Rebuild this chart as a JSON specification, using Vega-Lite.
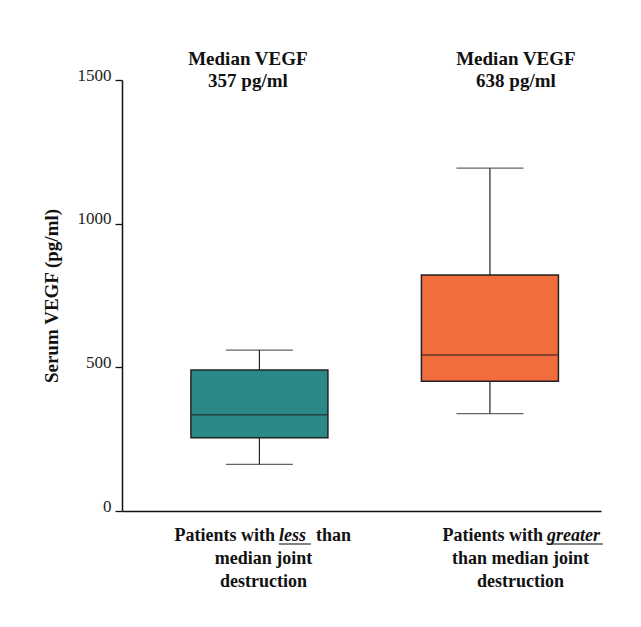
{
  "$schema": "https://vega.github.io/schema/vega-lite/v6.json",
  "width": 479,
  "height": 431,
  "autosize": {"type": "none"},
  "padding": {"left": 122, "top": 80, "right": 40, "bottom": 116},
  "background": "white",
  "config": {
    "view": {"stroke": null},
    "font": "Liberation Serif",
    "numberFormat": "d",
    "axisY": {"tickCount": 4, "grid": false,
      "domainColor": "#111", "domainWidth": 1.5, "tickColor": "#111", "tickWidth": 1.3, "tickSize": 7,
      "labelFont": "Liberation Serif", "labelFontSize": 17, "labelColor": "#222", "labelPadding": 4, "labelBaseline": "alphabetic",
      "titleFont": "Liberation Serif", "titleFontSize": 19, "titleFontWeight": "bold", "titleColor": "#111", "titlePadding": 16}
  },
  "data": {"values": [
    {"group": "less", "lower": 162, "q1": 255, "median": 335, "q3": 491, "upper": 560, "header": "Median VEGF\n357 pg/ml", "pre": "Patients with", "word": "less", "post": "than", "rest": "median joint\ndestruction"},
    {"group": "greater", "lower": 339, "q1": 452, "median": 543, "q3": 821, "upper": 1193, "header": "Median VEGF\n638 pg/ml", "pre": "Patients with", "word": "greater", "post": "", "rest": "than median joint\ndestruction"}
  ]},
  "encoding": {
    "x": {
      "field": "group", "type": "nominal",
      "scale": {"type": "point", "domain": ["less", "greater"], "padding": 0.539, "align": 0.553},
      "axis": {"orient": "bottom", "title": null, "labels": false, "ticks": false, "domain": true, "domainColor": "#111", "domainWidth": 1.5, "grid": false}
    }
  },
  "layer": [
    {
      "mark": {"type": "rule", "color": "#222", "strokeWidth": 1.2},
      "encoding": {
        "y": {"field": "lower", "type": "quantitative", "scale": {"domain": [0, 1500], "nice": false}, "title": "Serum VEGF (pg/ml)"},
        "y2": {"field": "upper"}
      }
    },
    {
      "mark": {"type": "bar", "size": 137, "stroke": "#222", "strokeWidth": 1.5},
      "encoding": {
        "y": {"field": "q1", "type": "quantitative", "title": "Serum VEGF (pg/ml)"},
        "y2": {"field": "q3"},
        "color": {"field": "group", "type": "nominal", "scale": {"domain": ["less", "greater"], "range": ["#2b8a87", "#f26d3d"]}, "legend": null}
      }
    },
    {
      "mark": {"type": "tick", "size": 137, "thickness": 1.5, "color": "#222"},
      "encoding": {"y": {"field": "median", "type": "quantitative", "title": "Serum VEGF (pg/ml)"}}
    },
    {
      "mark": {"type": "tick", "size": 67, "thickness": 1.3, "color": "#222"},
      "encoding": {"y": {"field": "lower", "type": "quantitative", "title": "Serum VEGF (pg/ml)"}}
    },
    {
      "mark": {"type": "tick", "size": 67, "thickness": 1.3, "color": "#222"},
      "encoding": {"y": {"field": "upper", "type": "quantitative", "title": "Serum VEGF (pg/ml)"}}
    },
    {
      "transform": [{"filter": "datum.group == 'less'"}],
      "mark": {"type": "text", "align": "right", "baseline": "alphabetic", "dx": 15.5, "dy": 30, "fontSize": 18, "fontWeight": "bold", "color": "#111"},
      "encoding": {"y": {"datum": 0, "type": "quantitative", "title": "Serum VEGF (pg/ml)"}, "text": {"field": "pre"}}
    },
    {
      "transform": [{"filter": "datum.group == 'less'"}],
      "mark": {"type": "text", "align": "left", "baseline": "alphabetic", "dx": 19.5, "dy": 30, "fontSize": 18, "fontWeight": "bold", "fontStyle": "italic", "color": "#111"},
      "encoding": {"y": {"datum": 0, "type": "quantitative", "title": "Serum VEGF (pg/ml)"}, "text": {"field": "word"}}
    },
    {
      "transform": [{"filter": "datum.group == 'less'"}],
      "mark": {"type": "tick", "size": 32, "thickness": 1.3, "color": "#111"},
      "encoding": {"y": {"datum": 0, "type": "quantitative", "title": "Serum VEGF (pg/ml)"}, "xOffset": {"value": 35.5}, "yOffset": {"value": 33}}
    },
    {
      "transform": [{"filter": "datum.group == 'less'"}],
      "mark": {"type": "text", "align": "left", "baseline": "alphabetic", "dx": 56.5, "dy": 30, "fontSize": 18, "fontWeight": "bold", "color": "#111"},
      "encoding": {"y": {"datum": 0, "type": "quantitative", "title": "Serum VEGF (pg/ml)"}, "text": {"field": "post"}}
    },
    {
      "transform": [{"filter": "datum.group == 'less'"}],
      "mark": {"type": "text", "align": "center", "baseline": "alphabetic", "dx": 4, "dy": 53, "lineHeight": 22.5, "lineBreak": "\n", "fontSize": 18, "fontWeight": "bold", "color": "#111"},
      "encoding": {"y": {"datum": 0, "type": "quantitative", "title": "Serum VEGF (pg/ml)"}, "text": {"field": "rest"}}
    },
    {
      "transform": [{"filter": "datum.group == 'less'"}],
      "mark": {"type": "text", "align": "center", "baseline": "alphabetic", "dx": -11.5, "dy": -15, "lineHeight": 21.7, "lineBreak": "\n", "fontSize": 19, "fontWeight": "bold", "color": "#111"},
      "encoding": {"y": {"datum": 1500, "type": "quantitative", "title": "Serum VEGF (pg/ml)"}, "text": {"field": "header"}}
    },
    {
      "transform": [{"filter": "datum.group == 'greater'"}],
      "mark": {"type": "text", "align": "right", "baseline": "alphabetic", "dx": 53, "dy": 30, "fontSize": 18, "fontWeight": "bold", "color": "#111"},
      "encoding": {"y": {"datum": 0, "type": "quantitative", "title": "Serum VEGF (pg/ml)"}, "text": {"field": "pre"}}
    },
    {
      "transform": [{"filter": "datum.group == 'greater'"}],
      "mark": {"type": "text", "align": "left", "baseline": "alphabetic", "dx": 57, "dy": 30, "fontSize": 18, "fontWeight": "bold", "fontStyle": "italic", "color": "#111"},
      "encoding": {"y": {"datum": 0, "type": "quantitative", "title": "Serum VEGF (pg/ml)"}, "text": {"field": "word"}}
    },
    {
      "transform": [{"filter": "datum.group == 'greater'"}],
      "mark": {"type": "tick", "size": 56, "thickness": 1.3, "color": "#111"},
      "encoding": {"y": {"datum": 0, "type": "quantitative", "title": "Serum VEGF (pg/ml)"}, "xOffset": {"value": 85}, "yOffset": {"value": 33}}
    },
    {
      "transform": [{"filter": "datum.group == 'greater'"}],
      "mark": {"type": "text", "align": "center", "baseline": "alphabetic", "dx": 30.5, "dy": 53, "lineHeight": 22.5, "lineBreak": "\n", "fontSize": 18, "fontWeight": "bold", "color": "#111"},
      "encoding": {"y": {"datum": 0, "type": "quantitative", "title": "Serum VEGF (pg/ml)"}, "text": {"field": "rest"}}
    },
    {
      "transform": [{"filter": "datum.group == 'greater'"}],
      "mark": {"type": "text", "align": "center", "baseline": "alphabetic", "dx": 26, "dy": -15, "lineHeight": 21.7, "lineBreak": "\n", "fontSize": 19, "fontWeight": "bold", "color": "#111"},
      "encoding": {"y": {"datum": 1500, "type": "quantitative", "title": "Serum VEGF (pg/ml)"}, "text": {"field": "header"}}
    }
  ]
}
